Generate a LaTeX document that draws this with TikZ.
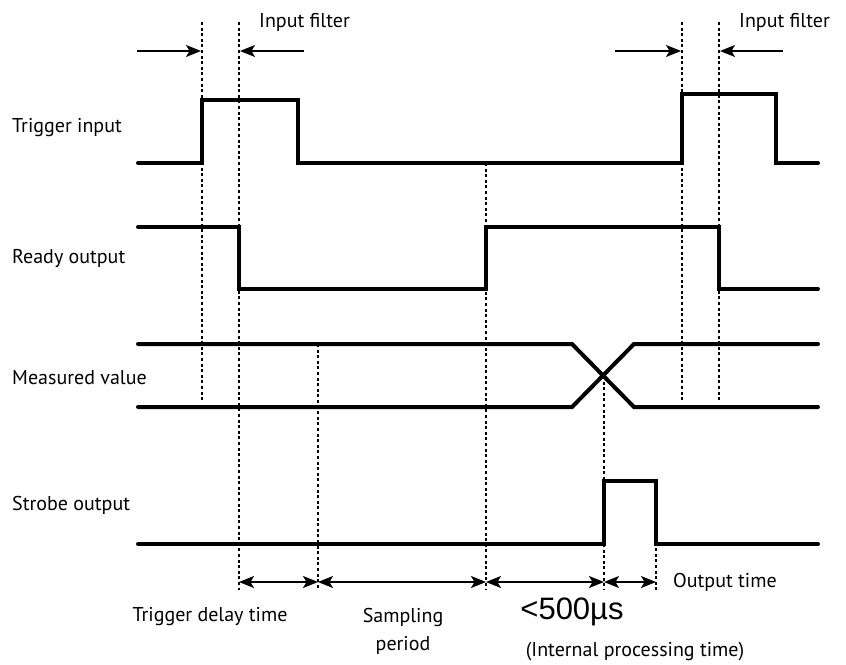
\documentclass[tikz,border=0pt]{standalone}
\usepackage{fontspec}
\setmainfont{PT Sans}
\newfontfamily\bigfont{Liberation Sans}
\usetikzlibrary{arrows.meta,positioning}

\begin{document}
\begin{tikzpicture}[x=1pt,y=-1pt,
    sig/.style={line width=4pt, line cap=round, line join=miter},
    guide/.style={line width=1.3pt, dash pattern=on 3pt off 2.6pt},
    span/.style={line width=1.4pt, {Stealth[length=15pt,width=12pt,inset=3.5pt]}-{Stealth[length=15pt,width=12pt,inset=3.5pt]}},
    onehead/.style={line width=1.4pt, -{Stealth[length=15pt,width=12pt,inset=3.5pt]}},
    lbl/.style={font=\fontsize{20}{28}\selectfont, inner sep=0pt, anchor=west}]
    \useasboundingbox (0,0) rectangle (846,664);

    % signal names
    \node[lbl] (trig) at (12,128) {Trigger input};
    \node[lbl] (ready) at (12,258) {Ready output};
    \node[lbl] (meas) at (12,378) {Measured value};
    \node[lbl] (strobe) at (12,505) {Strobe output};

    % guide lines
    \coordinate (g1) at (202,22);  \coordinate (g1b) at (202,402);
    \coordinate (g2) at (239,22);  \coordinate (g2b) at (239,590);
    \coordinate (g3) at (318,344); \coordinate (g3b) at (318,590);
    \coordinate (g4) at (486,163); \coordinate (g4b) at (486,590);
    \coordinate (g5) at (604,376); \coordinate (g5b) at (604,590);
    \coordinate (g6) at (656,481); \coordinate (g6b) at (656,590);
    \coordinate (g7) at (682,22);  \coordinate (g7b) at (682,402);
    \coordinate (g8) at (719,22);  \coordinate (g8b) at (719,402);
    \foreach \i in {1,...,8}
        \draw[guide] (g\i) -- (g\i b);

    % waveforms
    \draw[sig] (138,163) -- (202,163) -- (202,100) -- (298,100) -- (298,163)
        -- (682,163) -- (682,94) -- (776,94) -- (776,163) -- (818,163);
    \draw[sig] (138,227) -- (239,227) -- (239,289) -- (486,289) -- (486,227)
        -- (719,227) -- (719,289) -- (818,289);
    \draw[sig] (138,344) -- (572,344) -- (634,407) -- (818,407);
    \draw[sig] (138,407) -- (572,407) -- (634,344) -- (818,344);
    \draw[sig] (138,544) -- (604,544) -- (604,481) -- (656,481) -- (656,544) -- (818,544);

    % input filter marks
    \coordinate (f1) at (137,51);  \coordinate (f1e) at (201,51);
    \coordinate (f2) at (304,51);  \coordinate (f2e) at (240,51);
    \coordinate (f3) at (615,51);  \coordinate (f3e) at (681,51);
    \coordinate (f4) at (783,51);  \coordinate (f4e) at (720,51);
    \foreach \i in {1,...,4}
        \draw[onehead] (f\i) -- (f\i e);
    \node[lbl] (filtA) at (259,22) {Input filter};
    \node[lbl] (filtB) at (739,22) {Input filter};

    % timing spans
    \coordinate (t1) at (239,582);
    \coordinate (t2) at (318,582);
    \coordinate (t3) at (486,582);
    \coordinate (t4) at (604,582);
    \coordinate (t5) at (656,582);
    \draw[span] (t1) -- (t2);
    \draw[span] (t2) -- (t3);
    \draw[span] (t3) -- (t4);
    \draw[span] (t4) -- (t5);

    \node[lbl, anchor=center] (delay) at (210,617) {Trigger delay time};
    \node[lbl, anchor=center, align=center] (sampling) at (403,631) {Sampling\\period};
    \node[inner sep=0pt, font=\bigfont\fontsize{31}{36}\selectfont] (limit) at (572,612) {<500µs};
    \node[lbl, anchor=center] (internal) at (635,652) {(Internal processing time)};
    \node[lbl] (outtime) at (673,582) {Output time};
\end{tikzpicture}
\end{document}
